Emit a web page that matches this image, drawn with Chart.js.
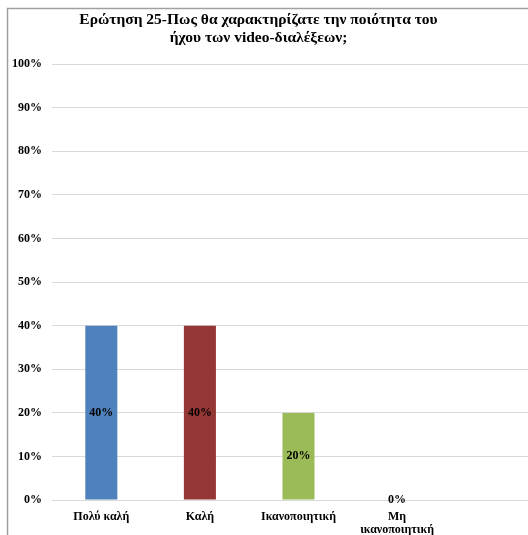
<!DOCTYPE html>
<html>
<head>
<meta charset="utf-8">
<script src="https://cdn.jsdelivr.net/npm/chart.js@4/dist/chart.umd.min.js"></script>
<style>
  html, body { margin: 0; padding: 0; background: #fff; overflow: hidden; }
  .holder { position: absolute; left: 0; top: 0; width: 545px; height: 550px; }
</style>
</head>
<body>
<div class="holder"><canvas id="chart"></canvas></div>
<script>
var titleLines = [
  "Ερώτηση 25-Πως θα χαρακτηρίζατε την ποιότητα του",
  "ήχου των video-διαλέξεων;"
];
// last slot is left empty, like the blank row in the source sheet
var categories = ["Πολύ καλή", "Καλή", "Ικανοποιητική", ["Μη", "ικανοποιητική"], ""];
var percentages = [40, 40, 20, 0];
var barColors = ["#4f81bd", "#953735", "#9bbb59", "#8064a2"];
var yTicks = [0, 10, 20, 30, 40, 50, 60, 70, 80, 90, 100];

var serif = "'Liberation Serif', 'Times New Roman', serif";

// outer frame of the chart object plus the two-line heading
var framePlugin = {
  id: "sheetFrame",
  afterDraw: function (chart) {
    var ctx = chart.ctx;
    ctx.save();
    ctx.strokeStyle = "#a0a0a0";
    ctx.lineWidth = 1.5;
    ctx.beginPath();
    ctx.moveTo(7.5, chart.height);
    ctx.lineTo(7.5, 8.5);
    ctx.lineTo(chart.width, 8.5);
    ctx.stroke();

    ctx.font = "bold 15.5px " + serif;
    ctx.fillStyle = "#000";
    ctx.textAlign = "center";
    ctx.textBaseline = "middle";
    titleLines.forEach(function (line, i) {
      ctx.fillText(line, 258.5, 20 + i * 18);
    });
    ctx.restore();
  },
};

var valueLabels = {
  id: "valueLabels",
  afterDatasetsDraw: function (chart) {
    var ctx = chart.ctx;
    var meta = chart.getDatasetMeta(0);
    ctx.save();
    ctx.font = "bold 12px " + serif;
    ctx.fillStyle = "#000";
    ctx.textAlign = "center";
    ctx.textBaseline = "middle";
    meta.data.forEach(function (bar, i) {
      var mid = (bar.y + bar.base) / 2;
      ctx.fillText(percentages[i] + "%", bar.x, mid);
    });
    ctx.restore();
  },
};

var chart = new Chart("chart", {
  type: "bar",
  data: {
    labels: categories,
    datasets: [
      {
        data: percentages,
        backgroundColor: barColors,
        categoryPercentage: 1,
        barPercentage: 0.325,
      },
    ],
  },
  options: {
    responsive: true,
    maintainAspectRatio: false,
    animation: false,
    layout: { padding: { top: 64, left: 2, right: 0, bottom: 3 } },
    plugins: {
      legend: { display: false },
      title: { display: false },
      tooltip: { enabled: false },
    },
    scales: {
      x: {
        grid: { display: false, drawTicks: false },
        border: { display: false },
        ticks: {
          color: "#000",
          padding: 10,
          maxRotation: 0,
          autoSkip: false,
          font: { family: serif, size: 12, weight: "bold", lineHeight: 1.12 },
        },
      },
      y: {
        min: 0,
        max: 100,
        afterBuildTicks: function (axis) {
          axis.ticks = yTicks.map(function (v) { return { value: v }; });
        },
        grid: { color: "#d9d9d9", lineWidth: 1, drawTicks: false },
        border: { display: false },
        ticks: {
          color: "#000",
          padding: 10,
          font: { family: serif, size: 12, weight: "bold" },
          callback: function (v) { return v + "%"; },
        },
      },
    },
  },
  plugins: [framePlugin, valueLabels],
});
</script>
</body>
</html>
